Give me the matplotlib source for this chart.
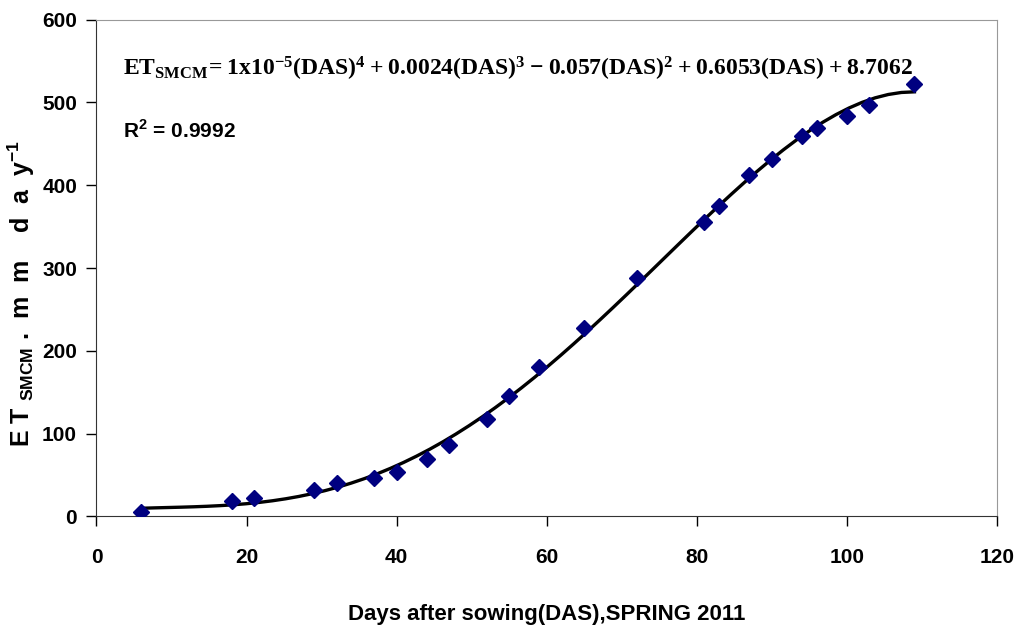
import matplotlib
matplotlib.use("Agg")
import matplotlib.pyplot as plt
import numpy as np

# days after sowing and measured ET (SMCM)
das = [6, 18, 21, 29, 32, 37, 40, 44, 47, 52, 55, 59, 65, 72,
       81, 83, 87, 90, 94, 96, 100, 103, 109]
et_smcm = [5, 19, 22, 32, 41, 47, 54, 70, 86, 118, 145, 181, 228, 288,
           356, 375, 412, 432, 459, 469, 484, 497, 522]

xticks = [0, 20, 40, 60, 80, 100, 120]
yticks = [0, 100, 200, 300, 400, 500, 600]

plt.rcParams['font.family'] = ['Liberation Sans', 'DejaVu Sans']
plt.rcParams['font.weight'] = 'bold'

fig = plt.figure(figsize=(10.34, 6.36), dpi=100)
ax = fig.add_axes([0.0933, 0.1879, 0.8709, 0.7814])

# 4th order polynomial trend line, as in the spreadsheet
coef = np.polyfit(das, et_smcm, 4)
xs = np.linspace(min(das), max(das), 60)
ax.plot(xs, np.polyval(coef, xs), color='black', lw=2.4, zorder=2)
ax.plot(das, et_smcm, linestyle='none', marker='D', markersize=8,
        color='#000080', zorder=3)

ax.set_xlim(0, 120)
ax.set_ylim(0, 600)
ax.set_xticks(xticks)
ax.set_yticks(yticks)
ax.tick_params(direction='out', length=7, width=1, labelsize=15)
ax.tick_params(axis='x', pad=16)
ax.tick_params(axis='y', pad=7)
for lab in ax.get_xticklabels() + ax.get_yticklabels():
    lab.set_fontweight('bold')

for s in ['left', 'bottom']:
    ax.spines[s].set_color('#333333')
for s in ['top', 'right']:
    ax.spines[s].set_color('#999999')

ax.set_xlabel('Days after sowing(DAS),SPRING 2011', fontsize=16,
              fontweight='bold')
ax.xaxis.set_label_coords(0.5, -0.176)
ax.set_ylabel(r'E T $\mathregular{_{S M C M}}$ .  m  m    d  a  y$^{\mathregular{-1}}$',
              fontsize=18, fontweight='bold')
ax.yaxis.set_label_coords(-0.066, 0.448)

eq = (r'$\mathregular{ET_{SMCM}\!=1x10^{-5}(DAS)^{4}+0.0024(DAS)^{3}'
      r'-0.057(DAS)^{2}+0.6053(DAS)+8.7062}$')
ax.text(0.029, 0.888, eq, transform=ax.transAxes, fontsize=17,
        family=['Liberation Serif'], fontweight='bold', va='baseline')
ax.text(0.029, 0.762, r'R$^{\mathregular{2}}$ = 0.9992', transform=ax.transAxes,
        fontsize=15, fontweight='bold', va='baseline')

fig.savefig('out.png', dpi=100)
